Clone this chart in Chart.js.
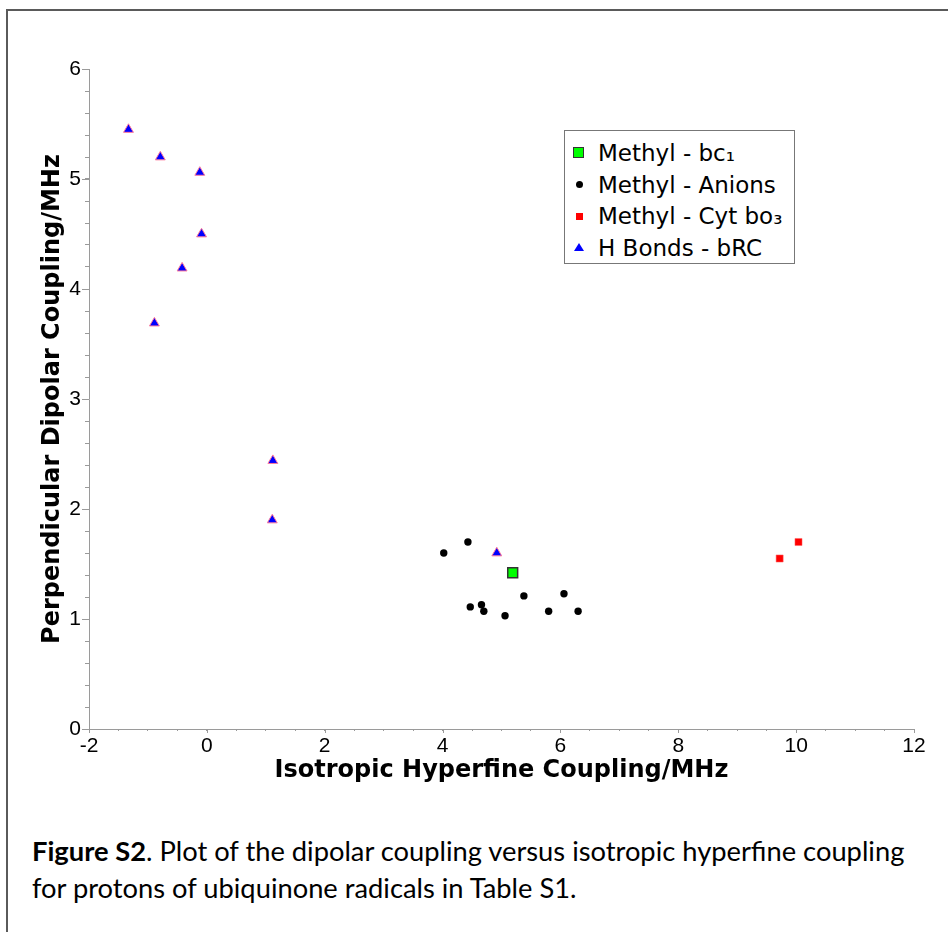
<!DOCTYPE html>
<html>
<head>
<meta charset="utf-8">
<script src="https://cdn.jsdelivr.net/npm/chart.js@4/dist/chart.umd.min.js"></script>
<style>
  html, body { margin: 0; padding: 0; background: #fff; }
  body { width: 948px; height: 932px; position: relative; overflow: hidden; font-family: "DejaVu Sans", sans-serif; }
  .frame { position: absolute; left: 6px; top: 9px; right: -10px; bottom: -10px; border-left: 2px solid #5a5a5a; border-top: 2px solid #5a5a5a; }
  #wrap { position: absolute; left: 0; top: 0; width: 948px; height: 800px; }
  #legend { position: absolute; left: 564px; top: 130px; width: 231px; height: 134px; border: 1px solid #777; background: #fff; box-sizing: border-box; }
  #legend .row { position: absolute; left: 0; height: 30px; line-height: 30px; font-size: 23px; color: #000; white-space: nowrap; }
  #legend .mk { position: absolute; left: 14px; top: 50%; }
  #legend .txt { position: absolute; left: 33px; top: 0; }
  .caption { position: absolute; left: 32px; top: 832px; font-family: Lato, "Liberation Sans", sans-serif; font-size: 27.3px; line-height: 37px; color: #000; }
</style>
</head>
<body>
<div class="frame"></div>
<div id="wrap"><canvas id="chart" width="948" height="800"></canvas></div>
<div id="legend"></div>
<div class="caption"><b>Figure S2</b>. Plot of the dipolar coupling versus isotropic hyperfine coupling<br>for protons of ubiquinone radicals in Table S1.</div>
<script>
const seriesNames = ['Methyl - bc\u2081', 'Methyl - Anions', 'Methyl - Cyt bo\u2083', 'H Bonds - bRC'];

const bc1X = [5.19];
const bc1Y = [1.42];

const anionX = [4.02, 4.43, 4.47, 4.66, 4.70, 5.06, 5.38, 5.80, 6.06, 6.30];
const anionY = [1.60, 1.70, 1.11, 1.13, 1.07, 1.03, 1.21, 1.07, 1.23, 1.07];

const boX = [10.04, 9.72];
const boY = [1.70, 1.55];

const hbondX = [-1.33, -0.79, -0.12, -0.09, -0.42, -0.89, 1.12, 1.11, 4.92];
const hbondY = [5.45, 5.20, 5.06, 4.50, 4.19, 3.69, 2.44, 1.90, 1.60];

const xTicks = [-2, 0, 2, 4, 6, 8, 10, 12];
const yTicks = [0, 1, 2, 3, 4, 5, 6];

const xTitle = 'Isotropic Hyperfine Coupling/MHz';
const yTitle = 'Perpendicular Dipolar Coupling/MHz';

function pts(xs, ys) {
  return xs.map((x, i) => ({ x: x, y: ys[i] }));
}

const axisGrey = '#9a9a9a';
const tickFont = { family: 'Liberation Sans', size: 21 };

// longer tick marks for the labelled values
const majorTicks = {
  id: 'majorTicks',
  afterDraw(chart) {
    const ctx = chart.ctx;
    const xs = chart.scales.x, ys = chart.scales.y;
    const area = chart.chartArea;
    ctx.save();
    ctx.strokeStyle = axisGrey;
    ctx.lineWidth = 1;
    ctx.beginPath();
    xTicks.forEach(v => {
      const px = Math.round(xs.getPixelForValue(v)) + 0.5;
      ctx.moveTo(px, area.bottom);
      ctx.lineTo(px, area.bottom + 4);
    });
    yTicks.forEach(v => {
      const py = Math.round(ys.getPixelForValue(v)) + 0.5;
      ctx.moveTo(area.left - 7, py);
      ctx.lineTo(area.left, py);
    });
    ctx.stroke();
    ctx.restore();
  }
};

const chart = new Chart(document.getElementById('chart').getContext('2d'), {
  type: 'scatter',
  data: {
    datasets: [
      {
        label: seriesNames[0],
        data: pts(bc1X, bc1Y),
        pointStyle: 'rect',
        pointRadius: 7,
        backgroundColor: '#00ff00',
        borderColor: '#333333',
        borderWidth: 1.5
      },
      {
        label: seriesNames[1],
        data: pts(anionX, anionY),
        pointStyle: 'circle',
        pointRadius: 3.7,
        backgroundColor: '#000000',
        borderColor: '#000000',
        borderWidth: 0
      },
      {
        label: seriesNames[2],
        data: pts(boX, boY),
        pointStyle: 'rect',
        pointRadius: 5,
        backgroundColor: '#ff0000',
        borderColor: '#ff6666',
        borderWidth: 0.5
      },
      {
        label: seriesNames[3],
        data: pts(hbondX, hbondY),
        pointStyle: 'triangle',
        pointRadius: 5.7,
        backgroundColor: '#0000ff',
        borderColor: '#ff7a9a',
        borderWidth: 1
      }
    ]
  },
  options: {
    responsive: false,
    animation: false,
    layout: { padding: { left: 38, top: 69, right: 34, bottom: 15 } },
    plugins: {
      legend: { display: false },
      tooltip: { enabled: false }
    },
    scales: {
      x: {
        type: 'linear',
        min: -2,
        max: 12,
        afterFit(scale) { scale.height = 56; },
        border: { display: true, color: axisGrey, width: 1 },
        grid: { drawOnChartArea: false, drawTicks: true, tickLength: 2, color: axisGrey },
        ticks: {
          stepSize: 0.5,
          autoSkip: false,
          maxRotation: 0,
          padding: 3,
          color: '#000',
          font: tickFont,
          callback: v => xTicks.includes(v) ? String(v) : ''
        },
        title: {
          display: true,
          text: xTitle,
          color: '#000',
          padding: 0,
          font: { family: 'DejaVu Sans', size: 24, weight: 'bold' }
        }
      },
      y: {
        type: 'linear',
        min: 0,
        max: 6,
        afterFit(scale) { scale.width = 51; },
        border: { display: true, color: axisGrey, width: 1 },
        grid: { drawOnChartArea: false, drawTicks: true, tickLength: 4, color: axisGrey },
        ticks: {
          stepSize: 0.2,
          autoSkip: false,
          padding: 4,
          color: '#000',
          font: tickFont,
          callback: v => {
            const r = Math.round(v);
            return Math.abs(v - r) < 1e-6 && yTicks.includes(r) ? String(r) : '';
          }
        },
        title: {
          display: true,
          text: yTitle,
          color: '#000',
          padding: 0,
          font: { family: 'DejaVu Sans', size: 24, weight: 'bold' }
        }
      }
    }
  },
  plugins: [majorTicks]
});

// legend box built from the datasets
const markerCss = [
  'width:9px;height:9px;margin-top:-6px;margin-left:-6px;background:#00ff00;border:1.5px solid #333;',
  'width:7px;height:7px;margin-top:-3.5px;margin-left:-3.5px;background:#000;border-radius:50%;',
  'width:7px;height:7px;margin-top:-3.5px;margin-left:-3.5px;background:#ff0000;',
  'width:0;height:0;margin-top:-5px;margin-left:-5px;border-left:5px solid transparent;border-right:5px solid transparent;border-bottom:8px solid #0000ff;'
];
const rowTops = [7, 38.5, 70, 101.5];
const legendEl = document.getElementById('legend');
chart.data.datasets.forEach((ds, i) => {
  const row = document.createElement('div');
  row.className = 'row';
  row.style.top = rowTops[i] + 'px';
  const mk = document.createElement('span');
  mk.className = 'mk';
  mk.style.cssText += markerCss[i];
  const txt = document.createElement('span');
  txt.className = 'txt';
  txt.textContent = ds.label;
  row.appendChild(mk);
  row.appendChild(txt);
  legendEl.appendChild(row);
});
</script>
</body>
</html>
